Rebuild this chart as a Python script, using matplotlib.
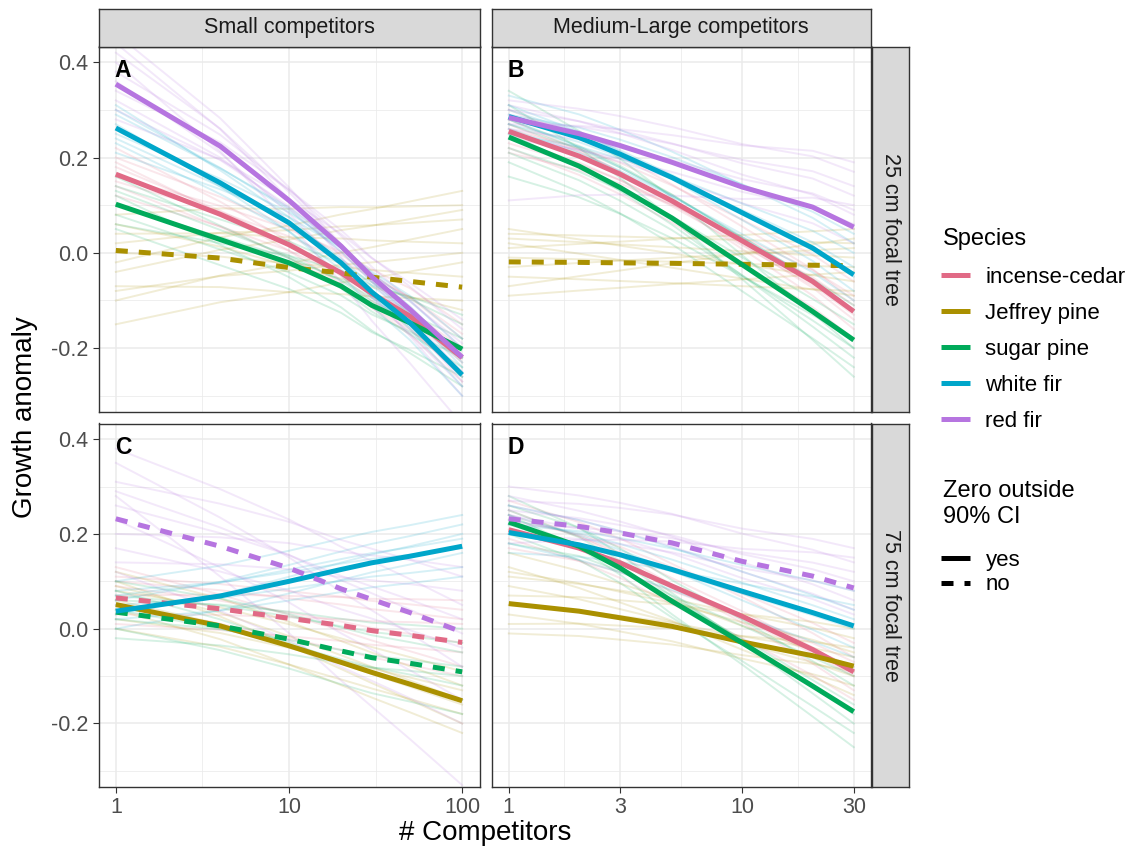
import numpy as np
import matplotlib
matplotlib.use("Agg")
import matplotlib.pyplot as plt
from matplotlib.lines import Line2D
from matplotlib.ticker import NullFormatter

plt.rcParams["font.family"] = ["Liberation Sans", "DejaVu Sans"]

species = ["incense-cedar", "Jeffrey pine", "sugar pine", "white fir", "red fir"]
colors = ["#E16A86", "#AA9000", "#00AA5A", "#00A6CA", "#B675E0"]

col_labels = ["Small competitors", "Medium-Large competitors"]
row_labels = ["25 cm focal tree", "75 cm focal tree"]
panel_tags = ["A", "B", "C", "D"]

# x values where the curves were read
x_small = [1, 4, 10, 20, 30, 50, 100]
x_large = [1, 2, 3, 5, 10, 20, 30]

y_ticks = [-0.2, 0.0, 0.2, 0.4]
y_tick_labels = ["-0.2", "0.0", "0.2", "0.4"]
x_small_ticks = [1, 10, 100]
x_large_ticks = [1, 3, 10, 30]

# posterior mean curves (order = species)
mean_a = [[0.165, 0.081, 0.017, -0.042, -0.085, -0.133, -0.22],
          [0.005, -0.011, -0.031, -0.042, -0.051, -0.060, -0.072],
          [0.102, 0.028, -0.021, -0.070, -0.110, -0.147, -0.202],
          [0.262, 0.147, 0.063, -0.021, -0.082, -0.147, -0.256],
          [0.354, 0.224, 0.110, 0.014, -0.050, -0.119, -0.219]]
mean_b = [[0.255, 0.203, 0.165, 0.109, 0.025, -0.060, -0.123],
          [-0.019, -0.020, -0.021, -0.022, -0.024, -0.026, -0.027],
          [0.243, 0.182, 0.137, 0.073, -0.025, -0.123, -0.183],
          [0.286, 0.242, 0.207, 0.158, 0.084, 0.010, -0.046],
          [0.284, 0.250, 0.225, 0.190, 0.138, 0.096, 0.054]]
mean_c = [[0.065, 0.042, 0.022, 0.007, -0.004, -0.014, -0.029],
          [0.051, 0.006, -0.036, -0.071, -0.092, -0.117, -0.152],
          [0.035, 0.006, -0.022, -0.047, -0.061, -0.073, -0.091],
          [0.037, 0.069, 0.100, 0.125, 0.139, 0.153, 0.174],
          [0.232, 0.174, 0.128, 0.084, 0.062, 0.034, -0.007]]
mean_d = [[0.209, 0.170, 0.139, 0.090, 0.026, -0.044, -0.091],
          [0.053, 0.037, 0.023, 0.005, -0.028, -0.057, -0.079],
          [0.225, 0.174, 0.128, 0.058, -0.030, -0.121, -0.175],
          [0.203, 0.177, 0.156, 0.125, 0.079, 0.034, 0.006],
          [0.232, 0.216, 0.202, 0.181, 0.142, 0.111, 0.086]]

# zero outside 90% CI? (False -> dashed)
sig_a = [True, False, True, True, True]
sig_b = [True, False, True, True, True]
sig_c = [False, True, False, True, False]
sig_d = [True, True, True, True, False]

# faint posterior draws, (value at first x, value at last x)
draws_a = [[(0.22, -0.26), (0.20, -0.18), (0.18, -0.23), (0.16, -0.15), (0.14, -0.25), (0.12, -0.20), (0.19, -0.27), (0.15, -0.17)],
           [(-0.15, -0.02), (-0.10, 0.05), (-0.07, -0.10), (-0.04, 0.09), (-0.02, 0.13), (0.0, -0.05), (0.02, 0.07), (0.04, 0.02), (0.06, -0.12), (0.08, 0.10), (-0.08, 0.0)],
           [(0.16, -0.24), (0.14, -0.15), (0.12, -0.28), (0.10, -0.18), (0.08, -0.22), (0.06, -0.13), (0.05, -0.26), (0.13, -0.20)],
           [(0.31, -0.28), (0.29, -0.22), (0.27, -0.30), (0.25, -0.20), (0.23, -0.26), (0.21, -0.18), (0.30, -0.24), (0.24, -0.23)],
           [(0.44, -0.30), (0.42, -0.25), (0.40, -0.36), (0.38, -0.20), (0.36, -0.28), (0.34, -0.16), (0.32, -0.22), (0.30, -0.19), (0.28, -0.14), (0.46, -0.27)]]
draws_b = [[(0.30, -0.10), (0.28, -0.16), (0.26, -0.06), (0.24, -0.13), (0.22, -0.18), (0.21, -0.09), (0.27, -0.14), (0.23, -0.11)],
           [(0.05, -0.06), (0.04, 0.02), (0.02, -0.09), (0.01, 0.05), (-0.01, -0.03), (-0.03, 0.01), (-0.05, -0.08), (-0.07, 0.03), (-0.09, -0.04), (0.03, -0.01)],
           [(0.34, -0.20), (0.31, -0.26), (0.28, -0.12), (0.25, -0.22), (0.22, -0.15), (0.19, -0.24), (0.16, -0.18), (0.27, -0.11), (0.21, -0.20)],
           [(0.33, 0.02), (0.31, -0.08), (0.29, 0.04), (0.27, -0.03), (0.26, -0.10), (0.25, 0.0), (0.30, -0.05), (0.28, -0.12)],
           [(0.32, 0.17), (0.30, 0.12), (0.29, 0.05), (0.27, 0.19), (0.26, 0.09), (0.25, 0.02), (0.31, 0.08), (0.11, 0.10), (0.28, 0.14), (0.24, 0.06)]]
draws_c = [[(0.13, -0.08), (0.11, 0.04), (0.09, -0.03), (0.07, 0.06), (0.05, -0.10), (0.03, 0.01), (0.01, -0.05), (0.10, 0.02)],
           [(0.12, -0.12), (0.10, -0.20), (0.08, -0.09), (0.06, -0.16), (0.04, -0.22), (0.02, -0.13), (0.0, -0.18), (0.09, -0.15)],
           [(0.10, -0.05), (0.08, -0.15), (0.06, 0.00), (0.04, -0.12), (0.02, -0.08), (0.0, -0.18), (-0.02, -0.10), (0.07, -0.03)],
           [(0.10, 0.24), (0.08, 0.17), (0.06, 0.22), (0.05, 0.13), (0.03, 0.20), (0.02, 0.11), (0.00, 0.16), (0.07, 0.19)],
           [(0.38, 0.05), (0.35, -0.08), (0.31, 0.11), (0.28, -0.33), (0.26, 0.02), (0.23, -0.15), (0.20, 0.13), (0.17, -0.04), (0.14, 0.08), (0.12, -0.20), (0.29, -0.01)]]
draws_d = [[(0.27, -0.06), (0.25, -0.13), (0.23, -0.03), (0.21, -0.10), (0.19, -0.15), (0.17, -0.07), (0.24, -0.09)],
           [(0.16, -0.08), (0.13, -0.14), (0.11, -0.02), (0.09, -0.10), (0.07, 0.00), (0.05, -0.06), (0.03, -0.12), (0.01, -0.04), (-0.01, -0.09), (0.12, -0.05)],
           [(0.28, -0.20), (0.26, -0.12), (0.24, -0.25), (0.22, -0.16), (0.20, -0.22), (0.18, -0.10), (0.25, -0.18)],
           [(0.26, 0.04), (0.24, -0.04), (0.22, 0.08), (0.20, 0.00), (0.18, -0.06), (0.16, 0.05), (0.23, 0.02)],
           [(0.30, 0.14), (0.28, 0.06), (0.27, 0.17), (0.25, 0.10), (0.24, 0.03), (0.22, 0.12), (0.20, 0.08), (0.18, 0.15), (0.26, 0.04)]]

W, H = 1137, 857
fig = plt.figure(figsize=(W / 100, H / 100), dpi=100)


def box(l, t, r, b):
    return [l / W, 1 - b / H, (r - l) / W, (b - t) / H]


DASH = (0, (2.4, 2.2))


def draw_panel(ax, xs, means, sig, draws):
    xs = np.array(xs, dtype=float)
    t = np.log(xs) / np.log(xs[-1])
    for m, dr, c in zip(means, draws, colors):
        m = np.array(m)
        for s, e in dr:
            y = m + (s - m[0]) * (1 - t) + (e - m[-1]) * t
            ax.plot(xs, y, color=c, alpha=0.16, lw=1.4)
    for m, ok, c in zip(means, sig, colors):
        ax.plot(xs, m, color=c, lw=3.6, ls="-" if ok else DASH,
                solid_capstyle="butt", dash_capstyle="butt")


def style(ax, xs, ticks, bottom, left):
    ax.set_xscale("log")
    lo, hi = np.log10(xs[0]), np.log10(xs[-1])
    pad = (hi - lo) * 0.05
    ax.set_xlim(10 ** (lo - pad), 10 ** (hi + pad))
    ax.set_ylim(-0.334, 0.433)
    ax.set_xticks(ticks)
    ax.set_xticklabels([str(v) for v in ticks])
    mids = [np.sqrt(ticks[i] * ticks[i + 1]) for i in range(len(ticks) - 1)]
    ax.set_xticks(mids, minor=True)
    ax.xaxis.set_minor_formatter(NullFormatter())
    ax.set_yticks(y_ticks)
    ax.set_yticklabels(y_tick_labels)
    ax.set_yticks([-0.3, -0.1, 0.1, 0.3], minor=True)
    ax.grid(which="major", color="#EBEBEB", lw=1.1)
    ax.grid(which="minor", color="#EBEBEB", lw=0.55)
    ax.set_axisbelow(True)
    ax.tick_params(which="minor", length=0)
    ax.tick_params(which="major", length=4.5, width=0.8, color="#333333",
                   labelsize=15.5, labelcolor="#4D4D4D", pad=3)
    if not bottom:
        ax.tick_params(axis="x", which="major", length=0, labelbottom=False)
    if not left:
        ax.tick_params(axis="y", which="major", length=0, labelleft=False)
    for sp in ax.spines.values():
        sp.set_color("#333333")
        sp.set_linewidth(1.0)


lefts = [(98.5, 479.5), (491.5, 871)]
tops = [(46.5, 412), (423.5, 787)]
panels = [(x_small, x_small_ticks, mean_a, sig_a, draws_a),
          (x_large, x_large_ticks, mean_b, sig_b, draws_b),
          (x_small, x_small_ticks, mean_c, sig_c, draws_c),
          (x_large, x_large_ticks, mean_d, sig_d, draws_d)]

for k, (xs, ticks, means, sig, draws) in enumerate(panels):
    r, c = divmod(k, 2)
    l, rr = lefts[c]
    t, b = tops[r]
    ax = fig.add_axes(box(l, t, rr, b))
    draw_panel(ax, xs, means, sig, draws)
    style(ax, xs, ticks, bottom=(r == 1), left=(c == 0))
    ax.text(0.043, 0.965, panel_tags[k], transform=ax.transAxes, ha="left", va="top",
            fontsize=16.5, fontweight="bold", color="black")

# strips
for c in range(2):
    l, rr = lefts[c]
    s = fig.add_axes(box(l, 8.5, rr, 46.5))
    s.set_facecolor("#D9D9D9")
    s.set_xticks([]); s.set_yticks([])
    for sp in s.spines.values():
        sp.set_color("#333333"); sp.set_linewidth(1.0)
    s.text(0.5, 0.5, col_labels[c], transform=s.transAxes, ha="center", va="center",
           fontsize=15.5, color="#1A1A1A")
for r in range(2):
    t, b = tops[r]
    s = fig.add_axes(box(872, t, 909, b))
    s.set_facecolor("#D9D9D9")
    s.set_xticks([]); s.set_yticks([])
    for sp in s.spines.values():
        sp.set_color("#333333"); sp.set_linewidth(1.0)
    s.text(0.5, 0.5, row_labels[r], transform=s.transAxes, ha="center", va="center",
           rotation=-90, fontsize=15.5, color="#1A1A1A")

fig.text(25 / W, 1 - 417 / H, "Growth anomaly", rotation=90, ha="center", va="center", fontsize=20)
fig.text(485 / W, 1 - 833 / H, "# Competitors", ha="center", va="center", fontsize=20)

# legends
fig.text(943 / W, 1 - 239 / H, "Species", ha="left", va="center", fontsize=17)
sp_handles = [Line2D([], [], color=c, lw=3.6, solid_capstyle="butt") for c in colors]
fig.legend(sp_handles, species, loc="upper left", bbox_to_anchor=(941 / W, 1 - 267 / H),
           frameon=False, fontsize=16, handlelength=1.3, handletextpad=0.7,
           labelspacing=0.67, borderpad=0, borderaxespad=0)

fig.text(943 / W, 1 - 504 / H, "Zero outside\n90% CI", ha="left", va="center",
         fontsize=17, linespacing=1.2)
ci_handles = [Line2D([], [], color="black", lw=3.6, solid_capstyle="butt"),
              Line2D([], [], color="black", lw=3.6, ls=DASH, dash_capstyle="butt")]
fig.legend(ci_handles, ["yes", "no"], loc="upper left", bbox_to_anchor=(941 / W, 1 - 550 / H),
           frameon=False, fontsize=16, handlelength=1.3, handletextpad=0.7,
           labelspacing=0.15, borderpad=0, borderaxespad=0)

fig.savefig("out.png", dpi=100)
